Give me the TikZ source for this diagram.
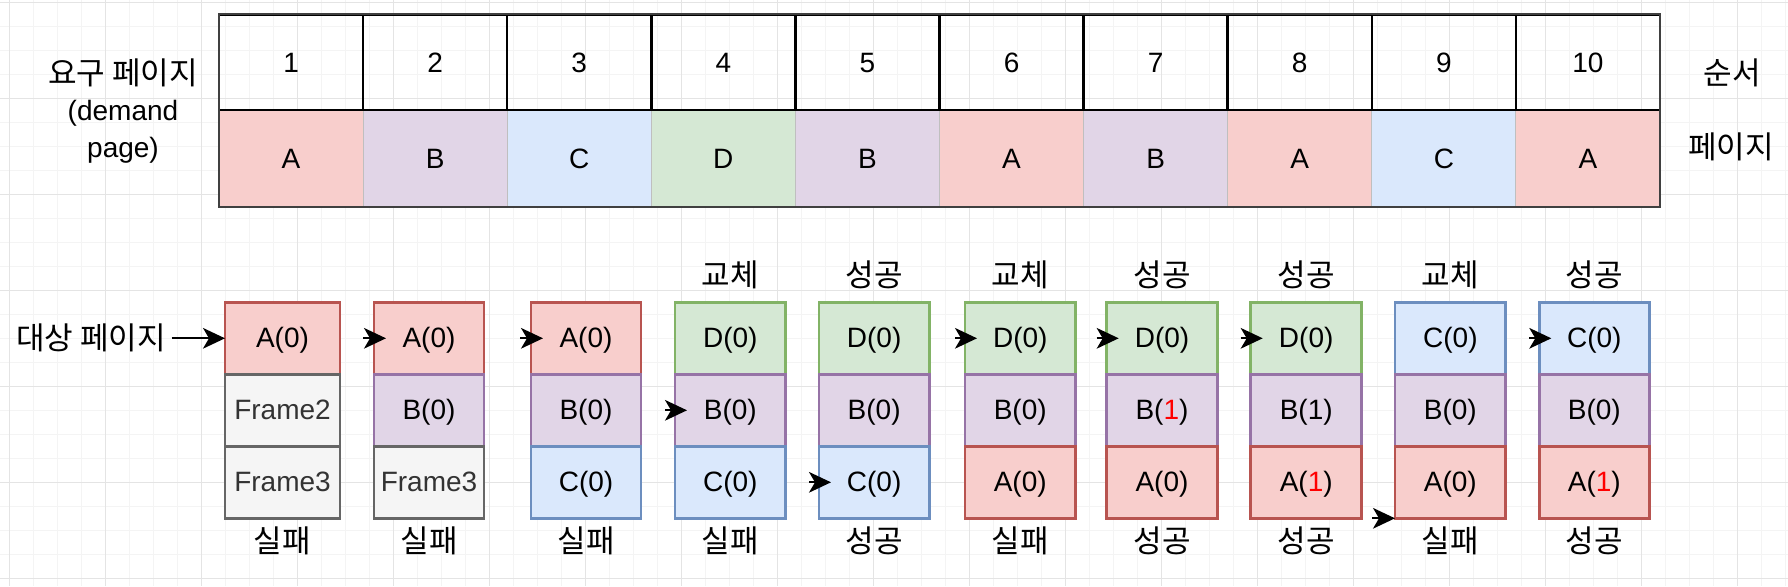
\documentclass[tikz,border=0pt]{standalone}
\usepackage{fontspec}
\setmainfont{Liberation Sans}
\newfontfamily\kr{Noto Sans CJK KR}
\usetikzlibrary{arrows.meta}
\definecolor{redF}{HTML}{F8CECC}\definecolor{redD}{HTML}{B85450}
\definecolor{purF}{HTML}{E1D5E7}\definecolor{purD}{HTML}{9673A6}
\definecolor{bluF}{HTML}{DAE8FC}\definecolor{bluD}{HTML}{6C8EBF}
\definecolor{grnF}{HTML}{D5E8D4}\definecolor{grnD}{HTML}{82B366}
\definecolor{gryF}{HTML}{F5F5F5}\definecolor{gryD}{HTML}{666666}\definecolor{gryT}{HTML}{333333}
\definecolor{gridMinor}{HTML}{F4F4F4}\definecolor{gridMajor}{HTML}{E4E4E4}
\newcommand{\pxunit}{0.75pt}
\newcommand{\mkstack}[9]{%
  \node[fbox,#4,minimum width=#3*\pxunit] (s#1a) at (#2,302.3) {#5};
  \node[fbox,#6,minimum width=#3*\pxunit] (s#1b) at (#2,374.3) {#7};
  \node[fbox,#8,minimum width=#3*\pxunit] (s#1c) at (#2,446.3) {#9};
}
\tikzset{
  txt/.style={font=\fontsize{21}{25}\selectfont},
  kor/.style={font=\fontsize{23.3}{28}\selectfont\kr},
  fbox/.style={txt, anchor=north west, outer sep=0pt, inner sep=0pt,
    minimum height=72*\pxunit, line width=2.6*\pxunit, text height=14.2pt, text depth=0pt},
  rb/.style={draw=redD, fill=redF},
  pb/.style={draw=purD, fill=purF},
  bb/.style={draw=bluD, fill=bluF},
  gb/.style={draw=grnD, fill=grnF},
  fr/.style={draw=gryD, fill=gryF, text=gryT},
  numcell/.style={txt, draw=black, line width=2.5*\pxunit, outer sep=0pt, inner sep=0pt,
    minimum width=144.1*\pxunit, minimum height=95.7*\pxunit, text height=15pt, text depth=0pt},
  pagecell/.style={txt, draw=black!25, line width=1*\pxunit, outer sep=0pt, inner sep=0pt,
    minimum width=144.1*\pxunit, minimum height=96.7*\pxunit, text height=15pt, text depth=0pt},
  arr/.style={-{Stealth[length=16.5pt,width=15.5pt,inset=4.5pt]}, line width=1.5pt},
  gminor/.style={draw=gridMinor, line width=1*\pxunit},
  gmajor/.style={draw=gridMajor, line width=1*\pxunit}
}
\begin{document}
\begin{tikzpicture}[x=0.75pt,y=-0.75pt]
\useasboundingbox (0,0) rectangle (1788,586);
\fill[white] (0,0) rectangle (1788,586);
% background grid
\foreach \i in {0,...,74} \draw[gminor] ({9+24*\i},0) -- ({9+24*\i},586);
\foreach \j in {0,...,24} \draw[gminor] (0,{2.5+24*\j}) -- (1788,{2.5+24*\j});
\foreach \i in {0,...,18} \draw[gmajor] ({9+96*\i},0) -- ({9+96*\i},586);
\foreach \j in {0,...,6} \draw[gmajor] (0,{2.5+96*\j}) -- (1788,{2.5+96*\j});

% top table
\foreach \k/\p/\c in {1/A/redF,2/B/purF,3/C/bluF,4/D/grnF,5/B/purF,6/A/redF,7/B/purF,8/A/redF,9/C/bluF,10/A/redF}{
  \node[pagecell, fill=\c] (p\k) at ({219+144.1*(\k-0.5)},158.35) {\p};
}
\foreach \k in {1,...,10}{
  \node[numcell] (n\k) at ({219+144.1*(\k-0.5)},62.15) {\k};
}
\draw[black!75, line width=2.2*\pxunit] (n1.north west) rectangle (p10.south east);

% side labels
\node[txt, align=center, font=\fontsize{21}{27.5}\selectfont] (req) at (123,111) {{\kr\fontsize{23.3}{27.5}\selectfont 요구 페이지}\\(demand\\page)};
\node[kor] (ord) at (1732,73) {순서};
\node[kor] (pgl) at (1731,147) {페이지};

% stacks
\mkstack{1}{225}{115}{rb}{A(0)}{fr}{Frame2}{fr}{Frame3}
\mkstack{2}{374}{110}{rb}{A(0)}{pb}{B(0)}{fr}{Frame3}
\mkstack{3}{531}{110}{rb}{A(0)}{pb}{B(0)}{bb}{C(0)}
\mkstack{4}{675}{110.7}{gb}{D(0)}{pb}{B(0)}{bb}{C(0)}
\mkstack{5}{819}{110.3}{gb}{D(0)}{pb}{B(0)}{bb}{C(0)}
\mkstack{6}{965}{110.5}{gb}{D(0)}{pb}{B(0)}{rb}{A(0)}
\mkstack{7}{1106.7}{110.6}{gb}{D(0)}{pb}{B(\textcolor{red}{1})}{rb}{A(0)}
\mkstack{8}{1250.7}{111}{gb}{D(0)}{pb}{B(1)}{rb}{A(\textcolor{red}{1})}
\mkstack{9}{1395}{110.7}{bb}{C(0)}{pb}{B(0)}{rb}{A(0)}
\mkstack{10}{1539.3}{110}{bb}{C(0)}{pb}{B(0)}{rb}{A(\textcolor{red}{1})}

% labels above
\node[kor] (u4) at (730.3,275) {교체};
\node[kor] (u5) at (874.2,275) {성공};
\node[kor] (u6) at (1020.2,275) {교체};
\node[kor] (u7) at (1162,275) {성공};
\node[kor] (u8) at (1306.2,275) {성공};
\node[kor] (u9) at (1450.3,275) {교체};
\node[kor] (u10) at (1594.3,275) {성공};
% labels below
\node[kor] (d1) at (282.5,541) {실패};
\node[kor] (d2) at (429,541) {실패};
\node[kor] (d3) at (586,541) {실패};
\node[kor] (d4) at (730.3,541) {실패};
\node[kor] (d5) at (874.2,541) {성공};
\node[kor] (d6) at (1020.2,541) {실패};
\node[kor] (d7) at (1162,541) {성공};
\node[kor] (d8) at (1306.2,541) {성공};
\node[kor] (d9) at (1450.3,541) {실패};
\node[kor] (d10) at (1594.3,541) {성공};

% pointer
\node[kor, inner sep=4pt] (tgt) at (91,338.3) {대상 페이지};
\draw[arr] (tgt.east) -- (s1a.west);
\coordinate (a2) at ([xshift=-11*\pxunit]s2a.west);
\coordinate (a3) at ([xshift=-11*\pxunit]s3a.west);
\coordinate (a4) at ([xshift=-10*\pxunit]s4b.west);
\coordinate (a5) at ([xshift=-10*\pxunit]s5c.west);
\coordinate (a6) at ([xshift=-10*\pxunit]s6a.west);
\coordinate (a7) at ([xshift=-10*\pxunit]s7a.west);
\coordinate (a8) at ([xshift=-10*\pxunit]s8a.west);
\coordinate (a9) at ([xshift=-23*\pxunit]s9c.south west);
\coordinate (a10) at ([xshift=-10*\pxunit]s10a.west);
\foreach \t/\h in {a2/s2a,a3/s3a,a4/s4b,a5/s5c,a6/s6a,a7/s7a,a8/s8a,a10/s10a}
  \draw[arr, shorten >=-9pt] (\t) -- (\h.west);
\draw[arr] (a9) -- (s9c.south west);
\end{tikzpicture}
\end{document}
